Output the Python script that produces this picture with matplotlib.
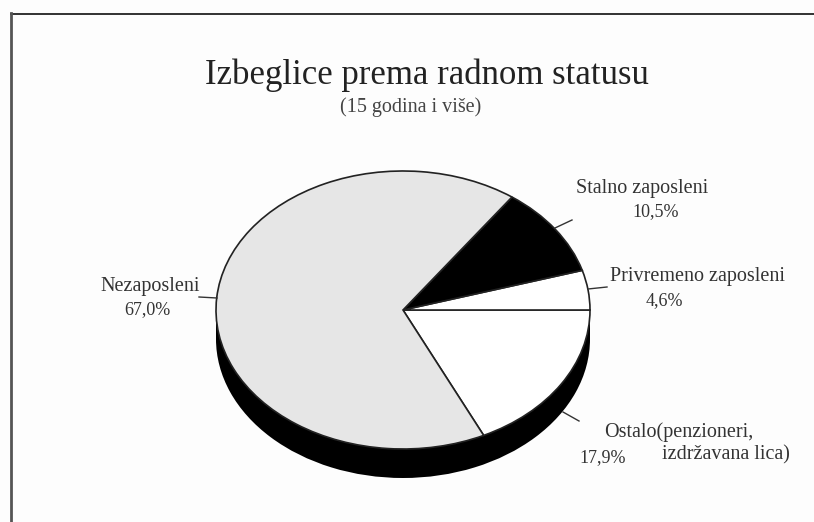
import matplotlib
matplotlib.use("Agg")
import matplotlib.pyplot as plt

plt.rcParams['font.family'] = ['Liberation Serif', 'DejaVu Serif']

# Data, counter-clockwise from the lower right
labels = ["Ostalo", "Privremeno zaposleni", "Stalno zaposleni", "Nezaposleni"]
values = [17.9, 4.6, 10.5, 67.0]
colors = ["white", "white", "black", "#e6e6e6"]

W, H = 814, 522
cx, cy = 403, 310      # pie centre in pixels
rx, ry = 187, 139      # ellipse radii
depth = 29

fig = plt.figure(figsize=(W / 100, H / 100), dpi=100, facecolor="#fdfdfd")

# pie axes: radius 1 comes out as the ellipse
ax = fig.add_axes([0, 0, 1, 1])
ax.pie([1], colors=["black"], radius=1, center=(0, -depth / ry), startangle=0)
ax.fill_between([-1, 1], -depth / ry, 0, color="black", lw=0)
ax.pie(values, colors=colors, radius=1, center=(0, 0), startangle=-64.44, counterclock=True,
       wedgeprops={"edgecolor": "#222222", "linewidth": 1.2})
ax.set_aspect("auto")
ax.set_xlim(-cx / rx, (W - cx) / rx)
ax.set_ylim((cy - H) / ry, cy / ry)
ax.axis("off")

# overlay in pixel coordinates for text, frame and leader lines
ov = fig.add_axes([0, 0, 1, 1])
ov.set_xlim(0, W)
ov.set_ylim(H, 0)
ov.axis("off")
ov.patch.set_alpha(0)

ov.plot([11, W], [13.5, 13.5], color="#222222", lw=1.3)
ov.plot([11, 11], [H, 12.5], color="#555555", lw=2)

ov.text(427, 75, "Izbeglice prema radnom statusu", fontsize=25, ha="center", va="center", color="#222222")
ov.text(411, 107, "(15 godina i više)", fontsize=14.5, ha="center", va="center", color="#444444")

txt = {"fontsize": 14.5, "va": "center", "ha": "center", "color": "#333333"}
pct = {"fontsize": 13, "va": "center", "ha": "center", "color": "#333333"}
ov.text(642, 188, "Stalno zaposleni", **txt)
ov.text(656, 212, "10,5%", **pct)
ov.text(698, 277, "Privremeno zaposleni", **txt)
ov.text(664, 301, "4,6%", **pct)
ov.text(150, 287, "Nezaposleni", **txt)
ov.text(147, 310, "67,0%", **pct)
ov.text(679, 432, "Ostalo(penzioneri,", **txt)
ov.text(726, 455, "izdržavana lica)", **txt)
ov.text(603, 458, "17,9%", **pct)

for xs, ys in [([555, 572], [228, 220]), ([588, 607], [289, 287]),
               ([199, 217], [297, 298]), ([563, 579], [412, 421])]:
    ov.plot(xs, ys, color="#333333", lw=1)

fig.savefig("out.png", dpi=100, facecolor=fig.get_facecolor())
